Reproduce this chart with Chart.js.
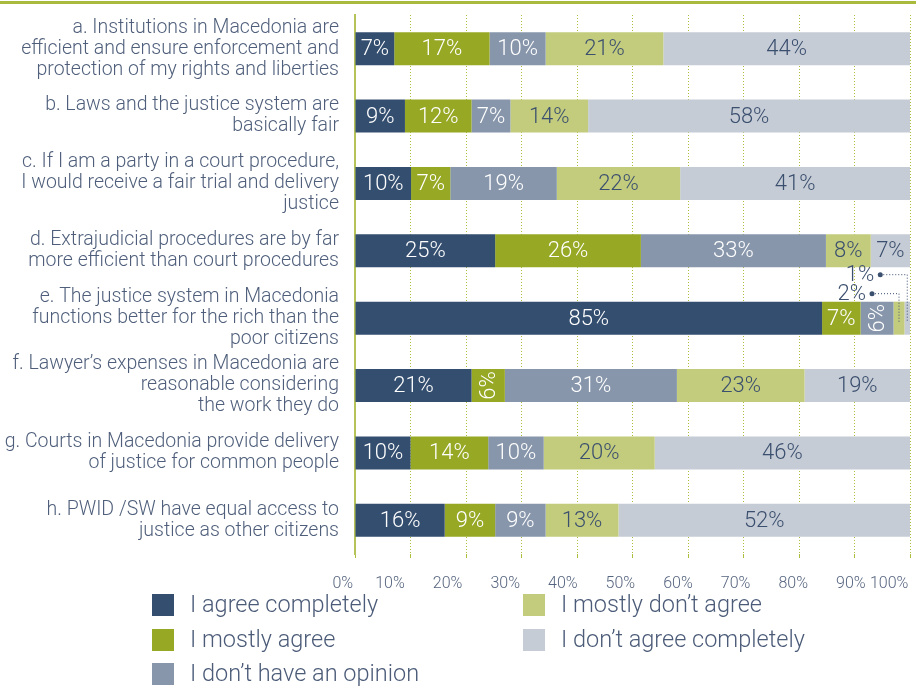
<!DOCTYPE html>
<html>
<head>
<meta charset="utf-8">
<script src="https://cdn.jsdelivr.net/npm/chart.js@4.4.1/dist/chart.umd.min.js"></script>
<style>
  html, body { margin: 0; padding: 0; background: #fff; }
  #wrap { position: relative; width: 916px; height: 686px; overflow: hidden; }
  #topline { position: absolute; left: 0; top: 1px; width: 916px; height: 3px; background: #a9ba3c; }
  #chartbox { position: absolute; left: 0; top: 0; width: 916px; height: 592px; }
  #legend { position: absolute; left: 0; top: 590px; width: 916px; height: 96px;
    font-family: Roboto, 'Noto Sans', sans-serif; font-weight: 300; font-size: 23.5px; color: #4b5b78; }
  .item { position: absolute; height: 24px; line-height: 24px; white-space: nowrap; }
  .box { position: absolute; left: 0; top: 1px; width: 22px; height: 22px; }
  .txt { position: absolute; left: 38px; top: -1px; }
</style>
</head>
<body>
<div id="wrap">
  <div id="topline"></div>
  <div id="chartbox"><canvas id="chart"></canvas></div>
  <div id="legend"></div>
</div>
<script>
const categories = [
  ['a. Institutions in Macedonia are', 'efficient and ensure enforcement and', 'protection of my rights and liberties'],
  ['b. Laws and the justice system are', 'basically fair'],
  ['c. If I am a party in a court procedure,', 'I would receive a fair trial and delivery', 'justice'],
  ['d. Extrajudicial procedures are by far', 'more efficient than court procedures'],
  ['e. The justice system in Macedonia', 'functions better for the rich than the', 'poor citizens'],
  ['f. Lawyer\u2019s expenses in Macedonia are', 'reasonable considering', 'the work they do'],
  ['g. Courts in Macedonia provide delivery', 'of justice for common people'],
  ['h. PWID /SW have equal access to', 'justice as other citizens']
];

const seriesNames = ['I agree completely', 'I mostly agree', 'I don\u2019t have an opinion', 'I mostly don\u2019t agree', 'I don\u2019t agree completely'];
const agreeCompletely = [7, 9, 10, 25, 85, 21, 10, 16];
const mostlyAgree = [17, 12, 7, 26, 7, 6, 14, 9];
const noOpinion = [10, 7, 19, 33, 6, 31, 10, 9];
const mostlyDisagree = [21, 14, 22, 8, 2, 23, 20, 13];
const disagreeCompletely = [44, 58, 41, 7, 1, 19, 46, 52];
const tickValues = [0, 10, 20, 30, 40, 50, 60, 70, 80, 90, 100];

const colors = ['#344e6f', '#97a824', '#8796ab', '#c3cc7d', '#c6ccd6'];
const labelColors = ['#ffffff', '#ffffff', '#ffffff', '#3b4f6e', '#3b4f6e'];
const FONT = "Roboto, 'Noto Sans', sans-serif";

const raw = [agreeCompletely, mostlyAgree, noOpinion, mostlyDisagree, disagreeCompletely];
const rowSums = categories.map((c, i) => raw.reduce((s, arr) => s + arr[i], 0));

function firstSmall(chart, i) {
  for (let j = 0; j < chart.data.datasets.length; j++) {
    if (chart.data.datasets[j].raw[i] < 3) return j;
  }
  return 0;
}

// labels inside bars, the tiny ones go above with a dotted leader
const barLabels = {
  id: 'barLabels',
  afterDatasetsDraw(chart) {
    const ctx = chart.ctx;
    const area = chart.chartArea;
    ctx.save();
    ctx.font = '300 22px ' + FONT;
    ctx.textBaseline = 'middle';
    chart.data.datasets.forEach((ds, di) => {
      const meta = chart.getDatasetMeta(di);
      meta.data.forEach((bar, i) => {
        const v = ds.raw[i];
        const p = bar.getProps(['x', 'y', 'base', 'height'], true);
        const w = p.x - p.base;
        const cx = (p.x + p.base) / 2;
        if (v < 3) {
          const top = p.y - p.height / 2;
          const yy = top - 8 - 19 * (di - firstSmall(chart, i));
          const lx = Math.min(cx, area.right - 2);
          const dotX = lx - 27;
          ctx.strokeStyle = '#3b4f6e';
          ctx.lineWidth = 1;
          ctx.setLineDash([1, 2]);
          ctx.beginPath();
          ctx.moveTo(dotX, yy);
          ctx.lineTo(lx, yy);
          ctx.lineTo(lx, top + 20);
          ctx.stroke();
          ctx.setLineDash([]);
          ctx.fillStyle = '#3b4f6e';
          ctx.beginPath();
          ctx.arc(dotX, yy, 2.5, 0, Math.PI * 2);
          ctx.fill();
          ctx.textAlign = 'right';
          ctx.fillText(v + '%', dotX - 6, yy + 1);
          return;
        }
        ctx.fillStyle = labelColors[di];
        if (w < 36) {
          ctx.save();
          ctx.translate(cx, p.y);
          ctx.rotate(-Math.PI / 2);
          ctx.textAlign = 'center';
          ctx.fillText(v + '%', 0, 1);
          ctx.restore();
        } else {
          ctx.textAlign = 'center';
          ctx.fillText(v + '%', cx, p.y + 1);
        }
      });
    });
    ctx.restore();
  }
};

const chart = new Chart(document.getElementById('chart'), {
  type: 'bar',
  data: {
    labels: categories,
    datasets: raw.map((arr, di) => ({
      label: seriesNames[di],
      raw: arr,
      data: arr.map((v, i) => v / rowSums[i] * 100),
      backgroundColor: colors[di],
      borderWidth: 0,
      barPercentage: 0.98,
      categoryPercentage: 0.5
    }))
  },
  options: {
    indexAxis: 'y',
    responsive: true,
    maintainAspectRatio: false,
    animation: false,
    layout: { padding: { top: 15, right: 6, left: 0, bottom: 0 } },
    plugins: {
      legend: { display: false },
      tooltip: { enabled: false }
    },
    scales: {
      x: {
        stacked: true,
        min: 0,
        max: 100,
        position: 'bottom',
        border: { display: false, dash: [1, 2] },
        grid: { color: '#aebd3c', lineWidth: 1, drawTicks: true, tickLength: 4, tickColor: '#aebd3c' },
        ticks: { display: false, stepSize: 10 },
        afterFit: s => { s.height = 4; s.paddingLeft = 0; s.paddingRight = 0; }
      },
      x2: {
        type: 'linear',
        position: 'bottom',
        min: 3.92,
        max: 100.28,
        grid: { display: false },
        border: { display: false },
        afterBuildTicks: s => { s.ticks = tickValues.map(v => ({ value: v })); },
        ticks: {
          align: 'inner',
          autoSkip: false,
          maxRotation: 0,
          padding: 8,
          color: '#56657f',
          font: { family: FONT, size: 16, weight: 300 },
          callback: v => v + '%'
        },
        afterFit: s => { s.height = 34; s.paddingLeft = 0; s.paddingRight = 0; }
      },
      y: {
        stacked: true,
        grid: { display: false, drawTicks: false },
        border: { display: true, color: '#b5c35a', width: 2 },
        ticks: {
          padding: 16,
          color: '#4f5f7b',
          font: { family: FONT, size: 19.5, weight: 300, lineHeight: 1.08 }
        },
        afterFit: s => { s.width = 355; s.paddingTop = 0; s.paddingBottom = 0; }
      }
    }
  },
  plugins: [barLabels]
});

// legend in two columns like the original
const legendPos = [[152, 3], [152, 38], [152, 72], [523, 3], [523, 38]];
const legend = document.getElementById('legend');
chart.data.datasets.forEach((ds, i) => {
  const it = document.createElement('div');
  it.className = 'item';
  it.style.left = legendPos[i][0] + 'px';
  it.style.top = legendPos[i][1] + 'px';
  it.innerHTML = '<span class="box" style="background:' + ds.backgroundColor + '"></span><span class="txt">' + ds.label + '</span>';
  legend.appendChild(it);
});
</script>
</body>
</html>
